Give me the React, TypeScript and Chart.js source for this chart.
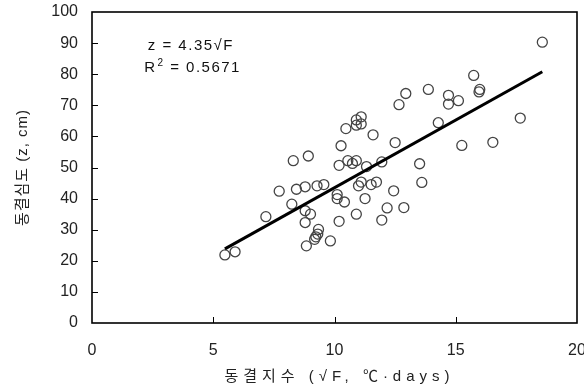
import React, { useEffect, useRef } from 'react';
import { Chart, registerables } from 'chart.js';

Chart.register(...registerables);

// Freezing index (√F) and observed frost depth (z, cm)
const freezingIndex = [
  5.48, 5.9, 7.17, 7.72, 8.3, 8.92, 8.24, 8.43, 8.79, 8.79, 9.01, 8.79, 8.84, 9.28, 9.56, 9.34,
  9.31, 9.23, 9.18, 9.83, 10.27, 10.19, 10.55, 10.74, 10.9, 11.32, 11.95, 10.11, 10.11, 10.41,
  10.19, 10.9, 11.1, 10.99, 11.51, 11.73, 11.26, 12.17, 11.95, 12.44, 12.5, 12.66, 10.9, 11.1,
  11.1, 10.9, 10.47, 11.59, 18.57, 15.74, 15.99, 15.96, 13.87, 12.94, 14.7, 14.7, 15.11, 14.28,
  17.66, 15.25, 16.53, 13.51, 13.6, 12.86,
];
const frostDepth = [
  21.9, 22.9, 34.2, 42.4, 52.2, 53.7, 38.2, 43.0, 43.8, 36.1, 35.0, 32.3, 24.8, 44.1, 44.5, 30.1,
  28.6, 27.7, 26.9, 26.4, 57.0, 50.7, 52.2, 51.3, 52.2, 50.3, 51.8, 41.3, 40.0, 38.9,
  32.7, 35.0, 45.3, 44.1, 44.5, 45.3, 40.0, 37.0, 33.1, 42.5, 58.0, 70.2, 65.3, 66.3,
  64.0, 63.6, 62.5, 60.5, 90.3, 79.6, 75.1, 74.3, 75.1, 73.8, 73.2, 70.4, 71.5, 64.4,
  65.9, 57.1, 58.1, 51.2, 45.2, 37.1,
];
// Regression z = 4.35 √F drawn over the observed range
const fitCoef = 4.35;
const fitRange = [5.48, 18.57];
const xTicks = [0, 5, 10, 15, 20];
const yTicks = [0, 10, 20, 30, 40, 50, 60, 70, 80, 90, 100];
const equationText = 'z = 4.35√F';
const r2Value = '0.5671';
const xTitle = '동결지수 (√F, ℃·days)';
const yTitle = '동결심도 (z, cm)';

const FONT = '"Liberation Sans", Arial, "Noto Sans CJK KR", sans-serif';

const framePlugin = {
  id: 'frameAndText',
  afterDraw(chart: any) {
    const { ctx, chartArea, scales } = chart;
    const { left, right, top, bottom } = chartArea;
    const xs = scales.x;
    const ys = scales.y;
    ctx.save();
    ctx.strokeStyle = '#000';
    ctx.lineWidth = 1.6;
    ctx.strokeRect(left, top, right - left, bottom - top);
    ctx.lineWidth = 1;
    ctx.beginPath();
    yTicks.forEach((v) => {
      if (v === yTicks[0] || v === yTicks[yTicks.length - 1]) return;
      const py = Math.round(ys.getPixelForValue(v)) + 0.5;
      ctx.moveTo(left, py);
      ctx.lineTo(left + 6, py);
    });
    xTicks.forEach((v) => {
      if (v === xTicks[0] || v === xTicks[xTicks.length - 1]) return;
      const px = Math.round(xs.getPixelForValue(v)) + 0.5;
      ctx.moveTo(px, bottom);
      ctx.lineTo(px, bottom - 6);
    });
    ctx.stroke();

    // equation annotation
    ctx.fillStyle = '#111';
    ctx.font = `15px ${FONT}`;
    ctx.textBaseline = 'middle';
    ctx.textAlign = 'left';
    (ctx as any).letterSpacing = '1.5px';
    const ax = xs.getPixelForValue(2.3);
    ctx.fillText(equationText, ax, ys.getPixelForValue(89));
    const rx = xs.getPixelForValue(2.15);
    const ry = ys.getPixelForValue(82);
    ctx.fillText('R', rx, ry);
    const rw = ctx.measureText('R').width;
    ctx.font = `10px ${FONT}`;
    ctx.fillText('2', rx + rw + 1, ry - 5);
    ctx.font = `15px ${FONT}`;
    ctx.fillText(' = ' + r2Value, rx + rw + 8, ry);

    // axis titles
    ctx.fillStyle = '#222';
    ctx.font = `15px ${FONT}`;
    (ctx as any).letterSpacing = '5px';
    ctx.textAlign = 'center';
    ctx.fillText(xTitle, (left + right) / 2 + 5, 377);
    ctx.save();
    ctx.translate(23, (top + bottom) / 2);
    ctx.rotate(-Math.PI / 2);
    (ctx as any).letterSpacing = '1px';
    ctx.fillText(yTitle, 0, 0);
    ctx.restore();
    ctx.restore();
  },
};

export default function App() {
  const ref = useRef<HTMLCanvasElement>(null);
  useEffect(() => {
    document.body.style.margin = '0';
    const points = freezingIndex.map((x, i) => ({ x, y: frostDepth[i] }));
    const fit = fitRange.map((x) => ({ x, y: fitCoef * x }));
    const chart = new Chart(ref.current!, {
      type: 'scatter',
      data: {
        datasets: [
          {
            type: 'line',
            data: fit,
            borderColor: '#000',
            borderWidth: 3,
            pointRadius: 0,
            fill: false,
          } as any,
          {
            data: points,
            pointRadius: 5,
            pointBorderWidth: 1.3,
            pointBorderColor: '#444',
            pointBackgroundColor: 'rgba(0,0,0,0)',
            borderColor: '#444',
            backgroundColor: 'rgba(0,0,0,0)',
          },
        ],
      },
      options: {
        responsive: false,
        animation: false,
        layout: { padding: { top: 12, right: 7, left: 0, bottom: 0 } },
        plugins: { legend: { display: false }, tooltip: { enabled: false } },
        scales: {
          x: {
            type: 'linear',
            min: 0,
            max: 20,
            afterBuildTicks: (s: any) => {
              s.ticks = xTicks.map((v) => ({ value: v }));
            },
            afterFit: (s: any) => {
              s.height = 66;
              s.paddingLeft = 0;
              s.paddingRight = 0;
            },
            grid: { display: false, drawTicks: false },
            border: { display: false },
            ticks: { color: '#222', font: { family: FONT, size: 16 }, padding: 18, maxRotation: 0 },
          },
          y: {
            type: 'linear',
            min: 0,
            max: 100,
            afterBuildTicks: (s: any) => {
              s.ticks = yTicks.map((v) => ({ value: v }));
            },
            afterFit: (s: any) => {
              s.width = 92;
              s.paddingTop = 0;
              s.paddingBottom = 0;
            },
            grid: { display: false, drawTicks: false },
            border: { display: false },
            ticks: { color: '#222', font: { family: FONT, size: 16 }, padding: 14 },
          },
        },
      },
      plugins: [framePlugin],
    });
    return () => chart.destroy();
  }, []);
  return <canvas ref={ref} width={584} height={389} style={{ display: 'block' }} />;
}
